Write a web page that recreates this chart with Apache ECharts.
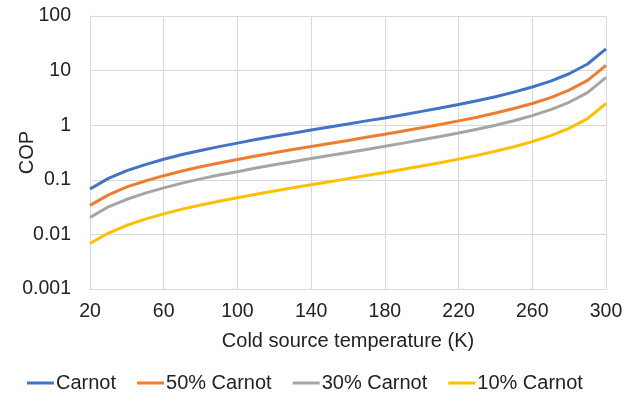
<!DOCTYPE html>
<html><head><meta charset="utf-8">
<script src="https://cdn.jsdelivr.net/npm/echarts@6/dist/echarts.min.js"></script>
<style>html,body{margin:0;padding:0;background:#fff}#c{width:637px;height:395px}</style>
</head><body><div id="c"></div>
<script>
var temps = [20,30,40,50,60,70,80,90,100,110,120,130,140,150,160,170,180,190,200,210,220,230,240,250,260,270,280,290,300];
var carnot = [0.068,0.106,0.147,0.19,0.238,0.29,0.345,0.405,0.47,0.545,0.625,0.715,0.815,0.925,1.05,1.2,1.36,1.56,1.79,2.06,2.39,2.8,3.33,4.03,5.0,6.43,8.75,13.2,25];
var carnot50 = [0.034,0.053,0.074,0.095,0.119,0.145,0.173,0.203,0.235,0.273,0.313,0.358,0.408,0.463,0.525,0.6,0.68,0.78,0.895,1.03,1.2,1.4,1.67,2.02,2.5,3.2,4.4,6.6,12.5];
var carnot30 = [0.0204,0.032,0.044,0.057,0.071,0.087,0.104,0.122,0.141,0.164,0.188,0.215,0.245,0.278,0.315,0.36,0.41,0.47,0.54,0.62,0.72,0.84,1.0,1.21,1.5,1.93,2.63,3.96,7.5];
var carnot10 = [0.0068,0.0106,0.0147,0.019,0.0238,0.029,0.0345,0.0405,0.047,0.0545,0.0625,0.0715,0.0815,0.0925,0.105,0.12,0.136,0.156,0.179,0.206,0.239,0.28,0.333,0.403,0.5,0.643,0.875,1.32,2.5];
var seriesNames = ['Carnot','50% Carnot','30% Carnot','10% Carnot'];
var colors = ['#4472C4','#ED7D31','#A5A5A5','#FFC000'];
var yTickLabels = {0.001:'0.001',0.01:'0.01',0.1:'0.1',1:'1',10:'10',100:'100'};

function pairs(v){ return temps.map(function(t,i){ return [t, v[i]]; }); }
var all = [carnot, carnot50, carnot30, carnot10];
var chart = echarts.init(document.getElementById('c'));
var font = 'Liberation Sans, Arial, sans-serif';
chart.setOption({
  animation:false,
  color: colors,
  grid:{left:90,right:31,top:16,bottom:106,containLabel:false},
  legend:{
    top:368, left:22, itemWidth:27, itemHeight:3, itemGap:21,
    icon:'rect',
    textStyle:{fontSize:20,color:'#222',fontFamily:font,padding:[0,0,0,-3]},
    data: seriesNames
  },
  xAxis:{
    type:'value', min:20, max:300, interval:40,
    name:'Cold source temperature (K)', nameLocation:'middle', nameGap:42, nameMoveOverlap:false,
    nameTextStyle:{fontSize:20,color:'#222',fontFamily:font},
    axisLine:{show:true,lineStyle:{color:'#d9d9d9',width:1}},
    axisTick:{show:false},
    axisLabel:{fontSize:19.5,color:'#222',fontFamily:font,margin:13},
    splitLine:{show:true,lineStyle:{color:'#d9d9d9',width:1}}
  },
  yAxis:{
    type:'log', logBase:10, min:0.001, max:100,
    name:'COP', nameLocation:'middle', nameGap:53, nameRotate:90, nameMoveOverlap:false,
    nameTextStyle:{fontSize:20,color:'#222',fontFamily:font},
    axisLine:{show:true,lineStyle:{color:'#d9d9d9',width:1}},
    axisTick:{show:false},
    axisLabel:{fontSize:19.5,color:'#222',fontFamily:font,margin:19,
      formatter:function(v){ var k = Object.keys(yTickLabels).filter(function(x){return Math.abs(Math.log10(+x)-Math.log10(v))<1e-6;}); return k.length?yTickLabels[k[0]]:String(v); }},
    splitLine:{show:true,lineStyle:{color:'#d9d9d9',width:1}}
  },
  series: seriesNames.map(function(n,i){
    return {name:n,type:'line',data:pairs(all[i]),showSymbol:false,symbol:'none',
      smooth:false,lineStyle:{width:3,color:colors[i]},z:10-i};
  })
});
</script></body></html>
